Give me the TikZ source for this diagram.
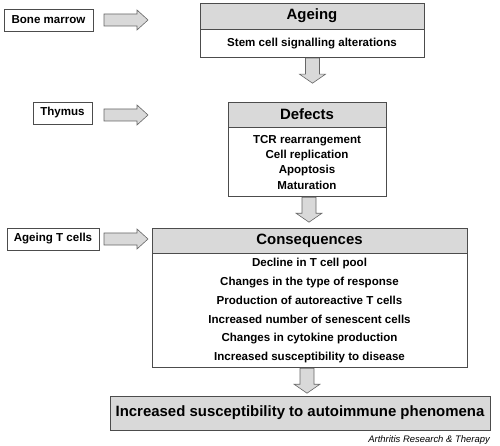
\documentclass[tikz,border=0pt]{standalone}
\usepackage{fontspec}
\setmainfont{Liberation Sans}
\begin{document}
\begin{tikzpicture}[x=1bp,y=-1bp,
  bx/.style={draw=black!70, line width=0.8bp, inner sep=0pt, font=\fontsize{11.6}{14}\selectfont\bfseries},
  hd/.style={bx, fill=black!15, font=\fontsize{15}{18}\selectfont\bfseries},
  arrfill/.style={draw=black!60, fill=black!15, line width=0.6bp, line join=miter},
  pics/rarr/.style={code={\draw[arrfill] (0,-6) -- (33,-6) -- (33,-10) -- (44,0) -- (33,10) -- (33,6) -- (0,6) -- cycle;}},
  pics/darr/.style={code={\draw[arrfill] (-7,0) -- (7,0) -- (7,16) -- (13,16) -- (0,25) -- (-13,16) -- (-7,16) -- cycle;}}
]
\useasboundingbox (0,0) rectangle (500,446);

% left input boxes
\node[bx, minimum width=89bp, minimum height=22bp] (bm) at (48.5,20) {Bone marrow};
\node[bx, minimum width=59bp, minimum height=22bp] (th) at (62.5,113) {Thymus};
\node[bx, minimum width=92bp, minimum height=22bp] (atc) at (53,239) {Ageing T cells};

% Ageing
\node[hd, minimum width=224bp, minimum height=26bp] (ageh) at (312,16) {Ageing};
\node[bx, minimum width=224bp, minimum height=28bp, anchor=north] (ageb) at (ageh.south) {Stem cell signalling alterations};

% Defects
\node[hd, minimum width=158bp, minimum height=25bp] (defh) at (307,114.5) {Defects};
\node[bx, minimum width=158bp, minimum height=69bp, anchor=north, align=center,
      font=\fontsize{11.6}{15.3}\selectfont\bfseries] (defb) at (defh.south)
  {TCR rearrangement\\Cell replication\\Apoptosis\\Maturation};

% Consequences
\node[hd, minimum width=315bp, minimum height=25bp] (conh) at (309.5,240.5) {Consequences};
\node[bx, minimum width=315bp, minimum height=114bp, anchor=north, align=center,
      font=\fontsize{11.6}{18.8}\selectfont\bfseries] (conb) at (conh.south)
  {Decline in T cell pool\\Changes in the type of response\\Production of autoreactive T cells\\Increased number of senescent cells\\Changes in cytokine production\\Increased susceptibility to disease};

% Final
\node[hd, minimum width=380bp, minimum height=34bp] (fin) at (300,413) {Increased susceptibility to autoimmune phenomena};

% credit
\node[anchor=east, inner sep=0pt, font=\fontsize{9.5}{11}\selectfont\itshape] (cred) at (490,440) {Arthritis Research \& Therapy};

% right block arrows
\pic at (104,0 |- bm.east) {rarr};
\pic at ([yshift=-2bp]104,0 |- th.east) {rarr};
\pic at (104,0 |- atc.east) {rarr};

% down block arrows
\pic at ([xshift=0.5bp]ageb.south) {darr};
\pic at ([xshift=2bp]defb.south) {darr};
\pic at ([xshift=-2.5bp]conb.south) {darr};
\end{tikzpicture}
\end{document}
